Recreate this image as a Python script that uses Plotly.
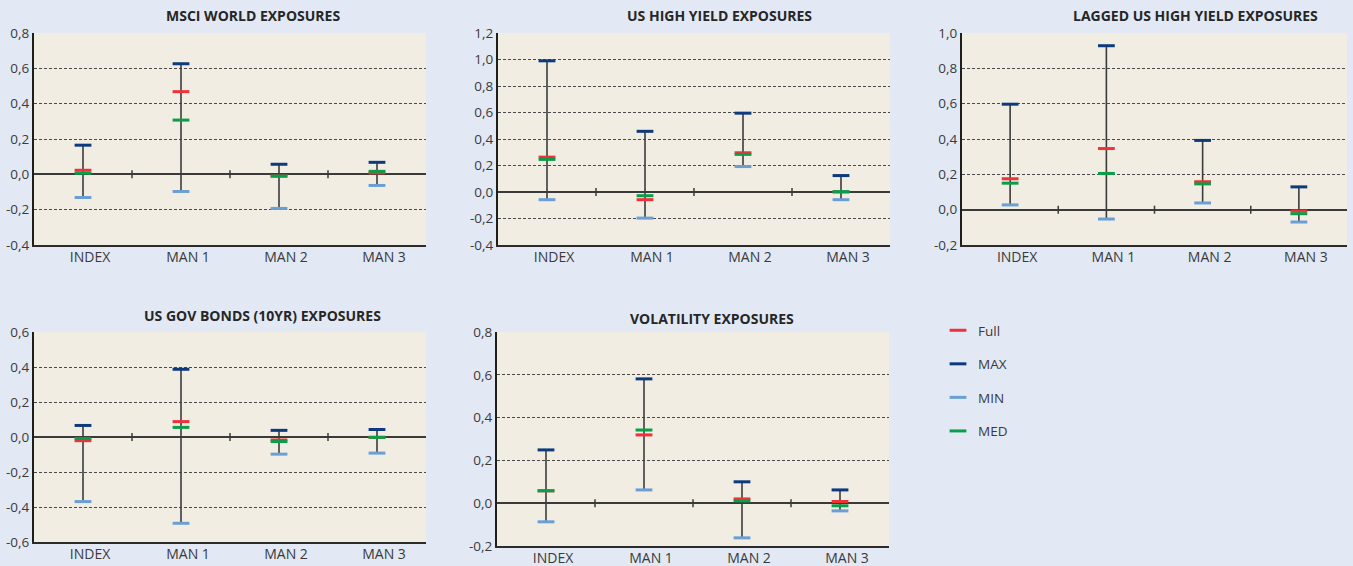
import plotly.graph_objects as go

W, H = 1353, 566

categories = ["INDEX", "MAN 1", "MAN 2", "MAN 3"]
series_names = ["Full", "MAX", "MIN", "MED"]

# MSCI WORLD
msci_full = [0.023, 0.468, -0.010, 0.008]
msci_max = [0.165, 0.626, 0.057, 0.068]
msci_min = [-0.131, -0.097, -0.193, -0.063]
msci_med = [0.006, 0.307, -0.010, 0.017]

# US HIGH YIELD
hy_full = [0.263, -0.058, 0.296, 0.000]
hy_max = [0.990, 0.458, 0.595, 0.124]
hy_min = [-0.058, -0.197, 0.192, -0.058]
hy_med = [0.246, -0.028, 0.284, 0.003]

# LAGGED US HIGH YIELD
lag_full = [0.175, 0.346, 0.158, -0.008]
lag_max = [0.597, 0.928, 0.392, 0.129]
lag_min = [0.027, -0.053, 0.038, -0.070]
lag_med = [0.150, 0.205, 0.146, -0.023]

# US GOV BONDS (10YR)
gov_full = [-0.021, 0.088, -0.017, -0.002]
gov_max = [0.066, 0.387, 0.038, 0.043]
gov_min = [-0.369, -0.493, -0.098, -0.092]
gov_med = [-0.009, 0.055, -0.026, -0.002]

# VOLATILITY
vol_full = [0.058, 0.319, 0.020, 0.008]
vol_max = [0.249, 0.581, 0.100, 0.062]
vol_min = [-0.087, 0.062, -0.162, -0.036]
vol_med = [0.058, 0.342, 0.011, -0.012]

titles = ["MSCI WORLD EXPOSURES", "US HIGH YIELD EXPOSURES", "LAGGED US HIGH YIELD EXPOSURES",
          "US GOV BONDS (10YR) EXPOSURES", "VOLATILITY EXPOSURES"]

ticks_msci = [-0.4, -0.2, 0.0, 0.2, 0.4, 0.6, 0.8]
labels_msci = ["-0,4", "-0,2", "0,0", "0,2", "0,4", "0,6", "0,8"]
ticks_hy = [-0.4, -0.2, 0.0, 0.2, 0.4, 0.6, 0.8, 1.0, 1.2]
labels_hy = ["-0,4", "-0,2", "0,0", "0,2", "0,4", "0,6", "0,8", "1,0", "1,2"]
ticks_lag = [-0.2, 0.0, 0.2, 0.4, 0.6, 0.8, 1.0]
labels_lag = ["-0,2", "0,0", "0,2", "0,4", "0,6", "0,8", "1,0"]
ticks_gov = [-0.6, -0.4, -0.2, 0.0, 0.2, 0.4, 0.6]
labels_gov = ["-0,6", "-0,4", "-0,2", "0,0", "0,2", "0,4", "0,6"]
ticks_vol = [-0.2, 0.0, 0.2, 0.4, 0.6, 0.8]
labels_vol = ["-0,2", "0,0", "0,2", "0,4", "0,6", "0,8"]

panels = [
    dict(data=[msci_full, msci_max, msci_min, msci_med], ticks=ticks_msci, labels=labels_msci,
         px=(34, 426), py=(33, 245), title_xy=(253, 16)),
    dict(data=[hy_full, hy_max, hy_min, hy_med], ticks=ticks_hy, labels=labels_hy,
         px=(498, 890), py=(33, 245), title_xy=(719, 16)),
    dict(data=[lag_full, lag_max, lag_min, lag_med], ticks=ticks_lag, labels=labels_lag,
         px=(962, 1347), py=(33, 245), title_xy=(1195, 16)),
    dict(data=[gov_full, gov_max, gov_min, gov_med], ticks=ticks_gov, labels=labels_gov,
         px=(34, 426), py=(332, 542), title_xy=(262, 315)),
    dict(data=[vol_full, vol_max, vol_min, vol_med], ticks=ticks_vol, labels=labels_vol,
         px=(497, 889), py=(332, 546), title_xy=(712, 318)),
]

colors = {"Full": "#ee3238", "MAX": "#0c3a7c", "MIN": "#6a9fd6", "MED": "#0a9d4a"}
FONT = "Open Sans"

fig = go.Figure()
annotations = []
shapes = []

for i, p in enumerate(panels):
    n = "" if i == 0 else str(i + 1)
    xa, ya = "x" + n, "y" + n
    full, mx, mn, med = p["data"]
    wx, wy = [], []
    for c, lo, hi in zip(categories, mn, mx):
        wx += [c, c, None]
        wy += [lo, hi, None]
    fig.add_trace(go.Scatter(x=wx, y=wy, mode="lines", line=dict(color="#3b3b3b", width=1.6),
                             showlegend=False, hoverinfo="skip", xaxis=xa, yaxis=ya))
    for name, vals in zip(series_names, p["data"]):
        fig.add_trace(go.Scatter(
            x=categories, y=vals, mode="markers", name=name,
            marker=dict(symbol="line-ew", size=12, color=colors[name],
                        line=dict(color=colors[name], width=3)),
            showlegend=(i == 0), legendgroup=name, xaxis=xa, yaxis=ya))
    x0, x1 = p["px"]
    y0, y1 = p["py"]
    fig.layout["xaxis" + n] = dict(
        domain=[x0 / W, x1 / W], anchor=ya, type="category", categoryorder="array",
        categoryarray=categories, range=[-0.5, 3.5], showgrid=False, zeroline=False,
        showline=True, linecolor="#2b2b2b", linewidth=1.5, ticks="", automargin=False,
        tickfont=dict(family=FONT, size=14, color="#3a3a3a"), ticklabelshift=7,
        ticklabelstandoff=-2, fixedrange=True)
    fig.layout["yaxis" + n] = dict(
        domain=[1 - y1 / H, 1 - y0 / H], anchor=xa, range=[p["ticks"][0], p["ticks"][-1]],
        tickvals=p["ticks"], ticktext=p["labels"], showgrid=True, gridcolor="#4a4a4a",
        gridwidth=1, griddash="3px,2px", zeroline=True, zerolinecolor="#3a3a3a",
        zerolinewidth=1.5, automargin=False,
        showline=True, linecolor="#1e1e1e", linewidth=2, ticks="",
        tickfont=dict(family=FONT, size=13.5, color="#3a3a3a"), ticklabelstandoff=0,
        fixedrange=True)
    # plot background
    shapes.append(dict(type="rect", xref="paper", yref="paper", x0=x0 / W, x1=x1 / W,
                       y0=1 - y1 / H, y1=1 - y0 / H, fillcolor="#f1ede3", line=dict(width=0),
                       layer="below"))
    # category separator ticks on zero line
    for b in [0.5, 1.5, 2.5]:
        shapes.append(dict(type="line", xref=xa, yref=ya, x0=b, x1=b, ysizemode="pixel",
                           yanchor=0, y0=-4, y1=4, line=dict(color="#3a3a3a", width=1.5)))
    tx, ty = p["title_xy"]
    annotations.append(dict(text="<b>" + titles[i] + "</b>", x=tx / W, y=1 - ty / H,
                            xref="paper", yref="paper", showarrow=False, xanchor="center",
                            yanchor="middle", font=dict(family=FONT, size=14, color="#262626")))

fig.update_layout(
    width=W, height=H, margin=dict(l=0, r=0, t=0, b=0),
    paper_bgcolor="#e2e9f5", plot_bgcolor="rgba(0,0,0,0)",
    shapes=shapes, annotations=annotations,
    legend=dict(x=938 / W, y=1 - 315 / H, xanchor="left", yanchor="top",
                bgcolor="rgba(0,0,0,0)", font=dict(family=FONT, size=13.5, color="#3a3a3a"),
                tracegroupgap=13, itemsizing="trace"),
    hovermode=False,
)

fig.write_html("out.html", config={"displayModeBar": False},
               post_script="document.body.style.margin='0';document.body.style.overflow='hidden';")
